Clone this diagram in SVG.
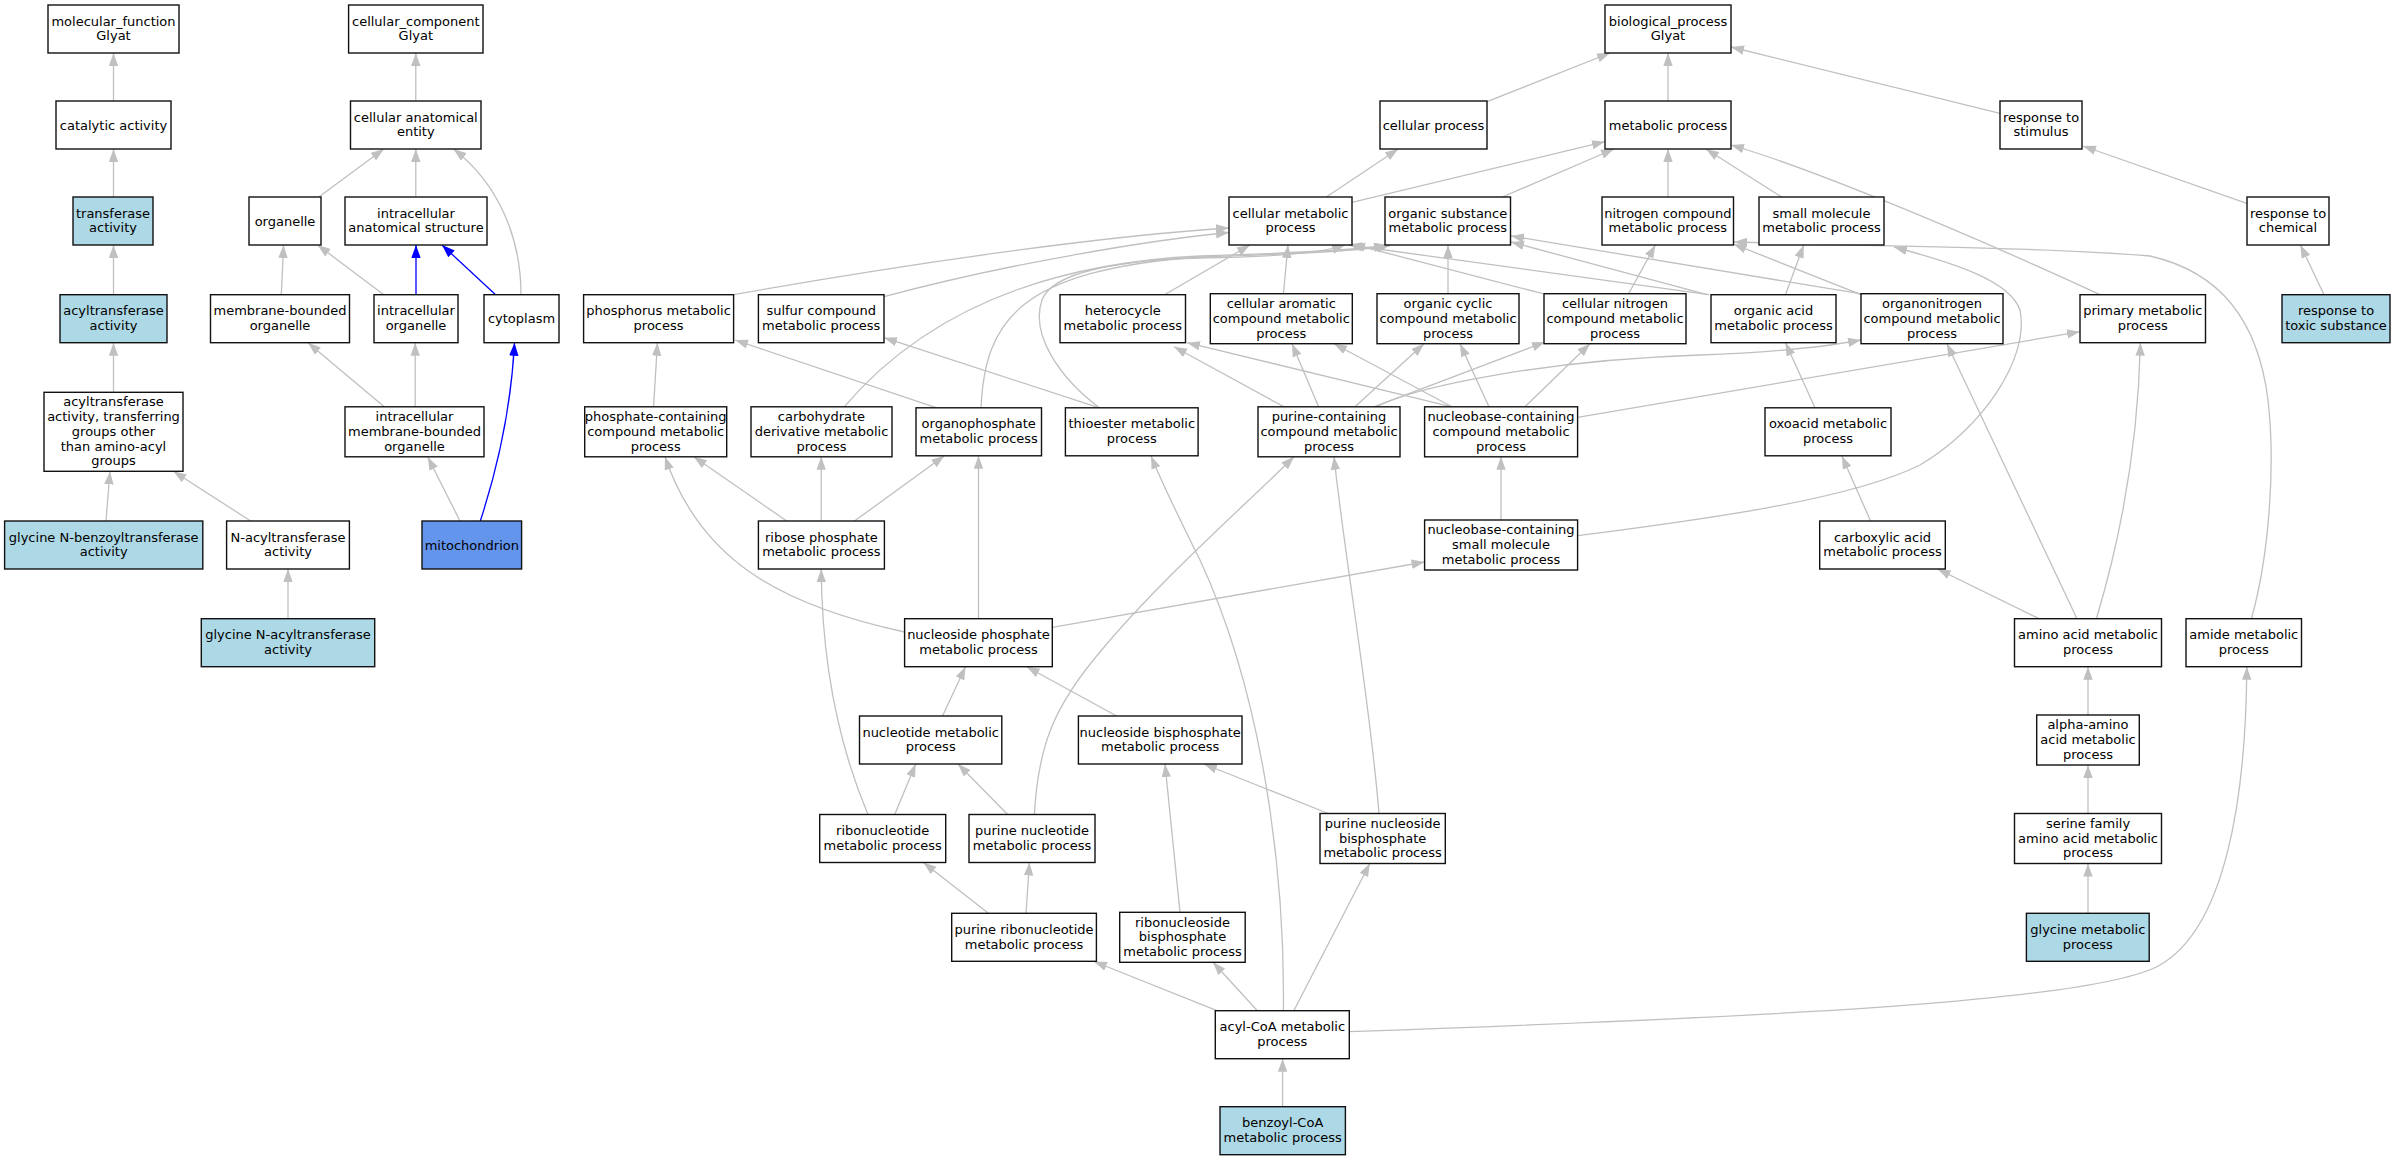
<svg xmlns="http://www.w3.org/2000/svg" width="2396" height="1160" viewBox="0 0 2396 1160">
<style>
.n rect{fill:#fff;stroke:#111;stroke-width:1.4}
.n.lb rect{fill:#ADD8E6}
.n.mi rect{fill:#6495ED}
.n text{font-family:"DejaVu Sans","Liberation Sans",sans-serif;font-size:13px;text-anchor:middle;fill:#000}
.e path{fill:none;stroke:#c0c0c0;stroke-width:1.3;marker-end:url(#ag)}
.e path.b{stroke:#0000ff;marker-end:url(#ab)}
</style>
<defs>
<marker id="ag" markerUnits="userSpaceOnUse" markerWidth="14" markerHeight="10" refX="13" refY="5" orient="auto" viewBox="0 0 14 10"><path d="M0,0.3 L13,5 L0,9.7z" fill="#c0c0c0"/></marker>
<marker id="ab" markerUnits="userSpaceOnUse" markerWidth="14" markerHeight="10" refX="13" refY="5" orient="auto" viewBox="0 0 14 10"><path d="M0,0.3 L13,5 L0,9.7z" fill="#0000ff"/></marker>
</defs>
<rect width="2396" height="1160" fill="#fff"/>
<g id="edges" class="e">
<path d="M113.5,101 L113.5,53"/>
<path d="M113.5,197 L113.5,149"/>
<path d="M113.5,294.7 L113.5,245"/>
<path d="M113.5,392.3 L113.5,342.7"/>
<path d="M106,521 L110,471.3"/>
<path d="M250.7,521 L173.4,471.3"/>
<path d="M288,618.7 L288,569"/>
<path d="M415.8,101 L415.8,53"/>
<path d="M318.8,197 L383.8,149"/>
<path d="M415.8,197 L415.8,149"/>
<path d="M521,294.7 C521,240 500,185 453.5,149"/>
<path d="M281.3,294.7 L283.6,245"/>
<path d="M383.8,294.7 L317.6,245"/>
<path class="b" d="M416,294.7 L416,245"/>
<path class="b" d="M495.6,294.7 L442,245"/>
<path d="M385.4,407.8 L308,342.7"/>
<path d="M415.2,406.8 L415.2,342.7"/>
<path d="M460,521 L427.8,457"/>
<path class="b" d="M480.3,521 C497,470 511,410 514.5,342.7"/>
<path d="M1487,101.7 L1610,53"/>
<path d="M1668,101 L1668,53"/>
<path d="M2000,113.3 L1731,47"/>
<path d="M2246.8,203.3 L2083,146"/>
<path d="M2324,294.7 L2300.4,245"/>
<path d="M1326.3,197 L1398.2,149"/>
<path d="M1352,202.3 L1605,141.7"/>
<path d="M1502.3,197 L1614,149"/>
<path d="M1668,197 L1668,149"/>
<path d="M1781.7,197 L1706,149"/>
<path d="M2100,294.7 C1960,230 1810,168 1731,145"/>
<path d="M733.6,294.7 C900,265 1100,236 1229,228"/>
<path d="M884,296.7 C1000,265 1150,240 1229,232.5"/>
<path d="M1164.5,294.7 L1250,245"/>
<path d="M1283.4,293.7 L1288,245"/>
<path d="M1448,293.7 L1448,245"/>
<path d="M1628.6,293.7 L1655.4,245"/>
<path d="M1542.9,293.7 L1352,244"/>
<path d="M1785.5,294.7 L1803.7,245"/>
<path d="M1707,294.7 L1511,242"/>
<path d="M1709,294.7 L1349,245"/>
<path d="M843.4,407.8 C905,335 1010,265 1200,256 C1300,253 1360,250 1387,245"/>
<path d="M981,407.8 C985,320 1020,270 1200,257 C1300,254 1362,251 1390,245.5"/>
<path d="M1099.4,407.8 C1060,378 1030,335 1042,300 C1052,272 1120,260 1200,258 C1280,257 1325,252 1345,245"/>
<path d="M1861,294.7 L1733.5,244"/>
<path d="M1866,294.7 L1511,236"/>
<path d="M2251.4,618.7 C2268,560 2276,470 2268,400 C2258,320 2220,272 2150,256 C2050,247 1850,246 1734,242"/>
<path d="M1577.7,535.7 C1700,520 1850,500 1920,465 C1980,430 2030,360 2020,310 C2010,280 1950,262 1894,247"/>
<path d="M1577.7,417.3 L2080,331.7"/>
<path d="M1376,406.7 C1420,385 1550,360 1700,355 C1780,352 1830,346 1861,340"/>
<path d="M1284,406.8 L1174,346.7"/>
<path d="M1318.6,406.8 L1292,343.7"/>
<path d="M1355,406.8 L1424,343.7"/>
<path d="M1374,406.8 L1545,342"/>
<path d="M1452,406.8 L1187,342.7"/>
<path d="M1452,406.8 L1334,343.7"/>
<path d="M1489,406.8 L1460,343.7"/>
<path d="M1525,406.8 L1590,343.7"/>
<path d="M1815,407.8 L1785.5,342.7"/>
<path d="M1870.6,521 L1841.9,456"/>
<path d="M2039,618.7 L1937.6,569"/>
<path d="M2077,618.7 L1947,343.7"/>
<path d="M2096.4,618.7 C2120,540 2138,450 2140.4,342.7"/>
<path d="M2088,715 L2088,666.7"/>
<path d="M2088,813.5 L2088,765"/>
<path d="M2088,913.3 L2088,863.5"/>
<path d="M1349.3,1031.7 C1800,1016 2100,1000 2160,965 C2225,928 2246,800 2246.8,666.7"/>
<path d="M1501,520 L1501,456.8"/>
<path d="M1052.3,627.3 L1424.6,562"/>
<path d="M904.6,632 C780,605 700,560 665,456.8"/>
<path d="M978.5,618.7 L978.5,455.8"/>
<path d="M786.7,521 L693.8,456.8"/>
<path d="M821.2,521 L821.2,456.8"/>
<path d="M854.5,521 L944.4,455.8"/>
<path d="M942.5,716 L965.5,666.7"/>
<path d="M1116.6,716 L1026.7,666.7"/>
<path d="M894.7,814.5 L915.7,764"/>
<path d="M868,814.5 C845,760 822,680 821.2,569"/>
<path d="M1007.6,814.5 L958,764"/>
<path d="M1034.4,814.5 C1038,745 1055,705 1100,652 C1160,580 1240,510 1294,456.8"/>
<path d="M1328.2,813.5 L1204,764"/>
<path d="M1379,813.5 C1370,700 1345,560 1334,456.8"/>
<path d="M988.4,913.3 L923.4,862.5"/>
<path d="M1026,913.3 L1029.4,862.5"/>
<path d="M1180,912.3 L1165,764"/>
<path d="M1217,1010.7 L1094,961.5"/>
<path d="M1257.4,1010.7 L1213,962.3"/>
<path d="M1283.4,1010.7 C1285,880 1265,700 1200,560 C1180,520 1165,490 1151,456"/>
<path d="M1293.8,1010.7 L1369.8,863.5"/>
<path d="M1282.6,1106.7 L1282.6,1058.7"/>
<path d="M1099.4,407.8 L884,337.7"/>
<path d="M936.8,407.8 L735,340"/>
<path d="M653.6,406.8 L657.4,342.7"/>
</g>
<g id="node-mf" class="n"><rect x="48" y="5" width="131" height="48"/><text><tspan x="113.5" y="25.6">molecular_function</tspan><tspan x="113.5" y="40.4">Glyat</tspan></text></g>
<g id="node-cc" class="n"><rect x="348.6" y="5" width="134.4" height="48"/><text><tspan x="415.8" y="25.6">cellular_component</tspan><tspan x="415.8" y="40.4">Glyat</tspan></text></g>
<g id="node-bp" class="n"><rect x="1605" y="5" width="126" height="48"/><text><tspan x="1668" y="25.6">biological_process</tspan><tspan x="1668" y="40.4">Glyat</tspan></text></g>
<g id="node-cat" class="n"><rect x="56" y="101" width="115" height="48"/><text><tspan x="113.5" y="129.5">catalytic activity</tspan></text></g>
<g id="node-cae" class="n"><rect x="350.5" y="101" width="130.5" height="48"/><text><tspan x="415.8" y="121.6">cellular anatomical</tspan><tspan x="415.8" y="136.4">entity</tspan></text></g>
<g id="node-cp" class="n"><rect x="1380" y="101" width="107" height="48"/><text><tspan x="1433.5" y="129.5">cellular process</tspan></text></g>
<g id="node-mp" class="n"><rect x="1605" y="101" width="126" height="48"/><text><tspan x="1668" y="129.5">metabolic process</tspan></text></g>
<g id="node-rs" class="n"><rect x="2000" y="101" width="82" height="48"/><text><tspan x="2041" y="121.6">response to</tspan><tspan x="2041" y="136.4">stimulus</tspan></text></g>
<g id="node-tr" class="n lb"><rect x="73" y="197" width="80" height="48"/><text><tspan x="113" y="217.6">transferase</tspan><tspan x="113" y="232.4">activity</tspan></text></g>
<g id="node-org" class="n"><rect x="249" y="197" width="72" height="48"/><text><tspan x="285" y="225.5">organelle</tspan></text></g>
<g id="node-ias" class="n"><rect x="345" y="197" width="142" height="48"/><text><tspan x="416" y="217.6">intracellular</tspan><tspan x="416" y="232.4">anatomical structure</tspan></text></g>
<g id="node-cmp" class="n"><rect x="1229" y="197" width="123" height="48"/><text><tspan x="1290.5" y="217.6">cellular metabolic</tspan><tspan x="1290.5" y="232.4">process</tspan></text></g>
<g id="node-osm" class="n"><rect x="1385" y="197" width="125.5" height="48"/><text><tspan x="1447.8" y="217.6">organic substance</tspan><tspan x="1447.8" y="232.4">metabolic process</tspan></text></g>
<g id="node-ncm" class="n"><rect x="1602" y="197" width="131.5" height="48"/><text><tspan x="1667.8" y="217.6">nitrogen compound</tspan><tspan x="1667.8" y="232.4">metabolic process</tspan></text></g>
<g id="node-smm" class="n"><rect x="1759" y="197" width="125" height="48"/><text><tspan x="1821.5" y="217.6">small molecule</tspan><tspan x="1821.5" y="232.4">metabolic process</tspan></text></g>
<g id="node-rc" class="n"><rect x="2247" y="197" width="82" height="48"/><text><tspan x="2288" y="217.6">response to</tspan><tspan x="2288" y="232.4">chemical</tspan></text></g>
<g id="node-acy" class="n lb"><rect x="60" y="294.7" width="107" height="48"/><text><tspan x="113.5" y="315.3">acyltransferase</tspan><tspan x="113.5" y="330.1">activity</tspan></text></g>
<g id="node-mbo" class="n"><rect x="210.5" y="294.7" width="139" height="48"/><text><tspan x="280" y="315.3">membrane-bounded</tspan><tspan x="280" y="330.1">organelle</tspan></text></g>
<g id="node-io" class="n"><rect x="374" y="294.7" width="84" height="48"/><text><tspan x="416" y="315.3">intracellular</tspan><tspan x="416" y="330.1">organelle</tspan></text></g>
<g id="node-cyt" class="n"><rect x="484" y="294.7" width="75" height="48"/><text><tspan x="521.5" y="323.2">cytoplasm</tspan></text></g>
<g id="node-phos" class="n"><rect x="583.6" y="294.7" width="150" height="48"/><text><tspan x="658.6" y="315.3">phosphorus metabolic</tspan><tspan x="658.6" y="330.1">process</tspan></text></g>
<g id="node-sulf" class="n"><rect x="758.4" y="294.7" width="125.6" height="48"/><text><tspan x="821.2" y="315.3">sulfur compound</tspan><tspan x="821.2" y="330.1">metabolic process</tspan></text></g>
<g id="node-het" class="n"><rect x="1060" y="294.7" width="125.5" height="48"/><text><tspan x="1122.8" y="315.3">heterocycle</tspan><tspan x="1122.8" y="330.1">metabolic process</tspan></text></g>
<g id="node-cam" class="n"><rect x="1210.3" y="293.7" width="142" height="50"/><text><tspan x="1281.3" y="307.9">cellular aromatic</tspan><tspan x="1281.3" y="322.7">compound metabolic</tspan><tspan x="1281.3" y="337.5">process</tspan></text></g>
<g id="node-occ" class="n"><rect x="1377" y="293.7" width="142" height="50"/><text><tspan x="1448" y="307.9">organic cyclic</tspan><tspan x="1448" y="322.7">compound metabolic</tspan><tspan x="1448" y="337.5">process</tspan></text></g>
<g id="node-cnc" class="n"><rect x="1544" y="293.7" width="142" height="50"/><text><tspan x="1615" y="307.9">cellular nitrogen</tspan><tspan x="1615" y="322.7">compound metabolic</tspan><tspan x="1615" y="337.5">process</tspan></text></g>
<g id="node-oam" class="n"><rect x="1711" y="294.7" width="125" height="48"/><text><tspan x="1773.5" y="315.3">organic acid</tspan><tspan x="1773.5" y="330.1">metabolic process</tspan></text></g>
<g id="node-onc" class="n"><rect x="1861" y="293.7" width="142" height="50"/><text><tspan x="1932" y="307.9">organonitrogen</tspan><tspan x="1932" y="322.7">compound metabolic</tspan><tspan x="1932" y="337.5">process</tspan></text></g>
<g id="node-pmp" class="n"><rect x="2080" y="294.7" width="125.5" height="48"/><text><tspan x="2142.8" y="315.3">primary metabolic</tspan><tspan x="2142.8" y="330.1">process</tspan></text></g>
<g id="node-rts" class="n lb"><rect x="2282" y="294.7" width="108" height="48"/><text><tspan x="2336" y="315.3">response to</tspan><tspan x="2336" y="330.1">toxic substance</tspan></text></g>
<g id="node-acyo" class="n"><rect x="44" y="392.3" width="139" height="79"/><text><tspan x="113.5" y="406.2">acyltransferase</tspan><tspan x="113.5" y="421">activity, transferring</tspan><tspan x="113.5" y="435.8">groups other</tspan><tspan x="113.5" y="450.6">than amino-acyl</tspan><tspan x="113.5" y="465.4">groups</tspan></text></g>
<g id="node-imbo" class="n"><rect x="345" y="406.8" width="139" height="50"/><text><tspan x="414.5" y="421">intracellular</tspan><tspan x="414.5" y="435.8">membrane-bounded</tspan><tspan x="414.5" y="450.6">organelle</tspan></text></g>
<g id="node-pcc" class="n"><rect x="584.7" y="406.8" width="142" height="50"/><text><tspan x="655.7" y="421">phosphate-containing</tspan><tspan x="655.7" y="435.8">compound metabolic</tspan><tspan x="655.7" y="450.6">process</tspan></text></g>
<g id="node-cdm" class="n"><rect x="751" y="406.8" width="141" height="50"/><text><tspan x="821.5" y="421">carbohydrate</tspan><tspan x="821.5" y="435.8">derivative metabolic</tspan><tspan x="821.5" y="450.6">process</tspan></text></g>
<g id="node-opm" class="n"><rect x="916" y="407.8" width="125.5" height="48"/><text><tspan x="978.7" y="428.4">organophosphate</tspan><tspan x="978.7" y="443.2">metabolic process</tspan></text></g>
<g id="node-thio" class="n"><rect x="1065.4" y="407.8" width="132.7" height="48"/><text><tspan x="1131.8" y="428.4">thioester metabolic</tspan><tspan x="1131.8" y="443.2">process</tspan></text></g>
<g id="node-pcm" class="n"><rect x="1258" y="406.8" width="142" height="50"/><text><tspan x="1329" y="421">purine-containing</tspan><tspan x="1329" y="435.8">compound metabolic</tspan><tspan x="1329" y="450.6">process</tspan></text></g>
<g id="node-nbc" class="n"><rect x="1424.6" y="406.8" width="153" height="50"/><text><tspan x="1501" y="421">nucleobase-containing</tspan><tspan x="1501" y="435.8">compound metabolic</tspan><tspan x="1501" y="450.6">process</tspan></text></g>
<g id="node-oxo" class="n"><rect x="1765" y="407.8" width="126" height="48"/><text><tspan x="1828" y="428.4">oxoacid metabolic</tspan><tspan x="1828" y="443.2">process</tspan></text></g>
<g id="node-gnb" class="n lb"><rect x="4.6" y="521" width="198.2" height="48"/><text><tspan x="103.7" y="541.6">glycine N-benzoyltransferase</tspan><tspan x="103.7" y="556.4">activity</tspan></text></g>
<g id="node-nat" class="n"><rect x="226.6" y="521" width="122.8" height="48"/><text><tspan x="288" y="541.6">N-acyltransferase</tspan><tspan x="288" y="556.4">activity</tspan></text></g>
<g id="node-mito" class="n mi"><rect x="422" y="521" width="99.6" height="48"/><text><tspan x="471.8" y="549.5">mitochondrion</tspan></text></g>
<g id="node-rpm" class="n"><rect x="758.4" y="521" width="126" height="48"/><text><tspan x="821.4" y="541.6">ribose phosphate</tspan><tspan x="821.4" y="556.4">metabolic process</tspan></text></g>
<g id="node-nbs" class="n"><rect x="1424.6" y="520" width="153" height="50"/><text><tspan x="1501" y="534.2">nucleobase-containing</tspan><tspan x="1501" y="549">small molecule</tspan><tspan x="1501" y="563.8">metabolic process</tspan></text></g>
<g id="node-cxa" class="n"><rect x="1819.7" y="521" width="125.6" height="48"/><text><tspan x="1882.5" y="541.6">carboxylic acid</tspan><tspan x="1882.5" y="556.4">metabolic process</tspan></text></g>
<g id="node-gna" class="n lb"><rect x="201.3" y="618.7" width="173.4" height="48"/><text><tspan x="288" y="639.3">glycine N-acyltransferase</tspan><tspan x="288" y="654.1">activity</tspan></text></g>
<g id="node-nspm" class="n"><rect x="904.6" y="618.7" width="147.7" height="48"/><text><tspan x="978.5" y="639.3">nucleoside phosphate</tspan><tspan x="978.5" y="654.1">metabolic process</tspan></text></g>
<g id="node-aam" class="n"><rect x="2014.5" y="618.7" width="147" height="48"/><text><tspan x="2088" y="639.3">amino acid metabolic</tspan><tspan x="2088" y="654.1">process</tspan></text></g>
<g id="node-amide" class="n"><rect x="2186" y="618.7" width="115.5" height="48"/><text><tspan x="2243.8" y="639.3">amide metabolic</tspan><tspan x="2243.8" y="654.1">process</tspan></text></g>
<g id="node-ntm" class="n"><rect x="859.5" y="716" width="142.3" height="48"/><text><tspan x="930.7" y="736.6">nucleotide metabolic</tspan><tspan x="930.7" y="751.4">process</tspan></text></g>
<g id="node-nbpm" class="n"><rect x="1078.4" y="716" width="163.6" height="48"/><text><tspan x="1160.2" y="736.6">nucleoside bisphosphate</tspan><tspan x="1160.2" y="751.4">metabolic process</tspan></text></g>
<g id="node-aaam" class="n"><rect x="2036.7" y="715" width="102.6" height="50"/><text><tspan x="2088" y="729.2">alpha-amino</tspan><tspan x="2088" y="744">acid metabolic</tspan><tspan x="2088" y="758.8">process</tspan></text></g>
<g id="node-rnm" class="n"><rect x="819.7" y="814.5" width="126" height="48"/><text><tspan x="882.7" y="835.1">ribonucleotide</tspan><tspan x="882.7" y="849.9">metabolic process</tspan></text></g>
<g id="node-pnm" class="n"><rect x="969" y="814.5" width="126" height="48"/><text><tspan x="1032" y="835.1">purine nucleotide</tspan><tspan x="1032" y="849.9">metabolic process</tspan></text></g>
<g id="node-pnbp" class="n"><rect x="1320" y="813.5" width="125.3" height="50"/><text><tspan x="1382.6" y="827.7">purine nucleoside</tspan><tspan x="1382.6" y="842.5">bisphosphate</tspan><tspan x="1382.6" y="857.3">metabolic process</tspan></text></g>
<g id="node-sfam" class="n"><rect x="2014.5" y="813.5" width="147" height="50"/><text><tspan x="2088" y="827.7">serine family</tspan><tspan x="2088" y="842.5">amino acid metabolic</tspan><tspan x="2088" y="857.3">process</tspan></text></g>
<g id="node-prm" class="n"><rect x="951.7" y="913.3" width="144.7" height="48"/><text><tspan x="1024" y="933.9">purine ribonucleotide</tspan><tspan x="1024" y="948.7">metabolic process</tspan></text></g>
<g id="node-rnbp" class="n"><rect x="1119.7" y="912.3" width="125.5" height="50"/><text><tspan x="1182.5" y="926.5">ribonucleoside</tspan><tspan x="1182.5" y="941.3">bisphosphate</tspan><tspan x="1182.5" y="956.1">metabolic process</tspan></text></g>
<g id="node-gly" class="n lb"><rect x="2026.4" y="913.3" width="122.8" height="48"/><text><tspan x="2087.8" y="933.9">glycine metabolic</tspan><tspan x="2087.8" y="948.7">process</tspan></text></g>
<g id="node-acoa" class="n"><rect x="1215.3" y="1010.7" width="134" height="48"/><text><tspan x="1282.3" y="1031.3">acyl-CoA metabolic</tspan><tspan x="1282.3" y="1046.1">process</tspan></text></g>
<g id="node-bcoa" class="n lb"><rect x="1220" y="1106.7" width="125.4" height="48"/><text><tspan x="1282.7" y="1127.3">benzoyl-CoA</tspan><tspan x="1282.7" y="1142.1">metabolic process</tspan></text></g>
</svg>
